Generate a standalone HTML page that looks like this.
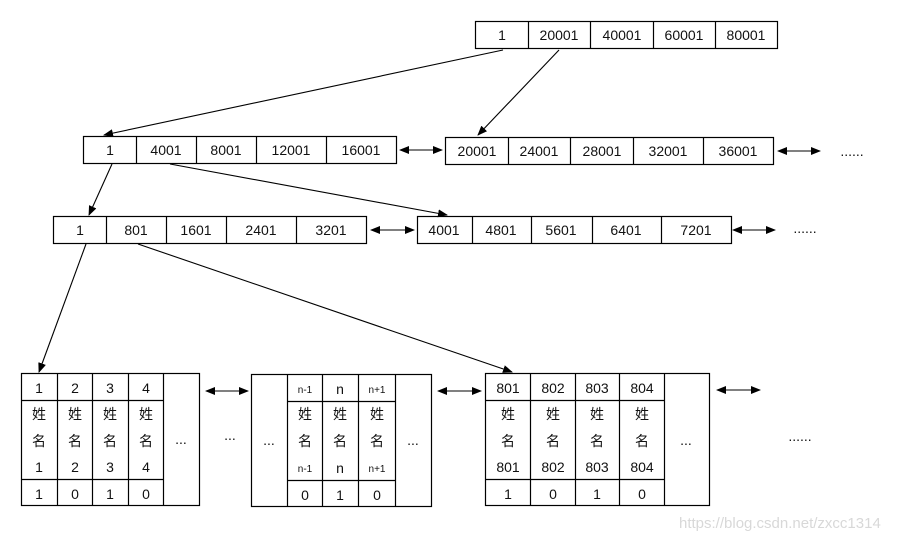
<!DOCTYPE html>
<html><head><meta charset="utf-8"><style>
html,body{margin:0;padding:0;background:#fff;}
svg{display:block}
text{font-family:"Liberation Sans","Noto Sans CJK SC",sans-serif;fill:#111;}
</style></head><body>
<svg width="900" height="540" viewBox="0 0 900 540" xmlns="http://www.w3.org/2000/svg">
<defs>
<marker id="a" markerWidth="10" markerHeight="8" refX="9" refY="4" orient="auto" markerUnits="userSpaceOnUse">
<path d="M0,0 L10,4 L0,8 z" fill="#000"/></marker>
<marker id="b" markerWidth="10" markerHeight="8" refX="1" refY="4" orient="auto" markerUnits="userSpaceOnUse">
<path d="M10,0 L0,4 L10,8 z" fill="#000"/></marker>
</defs>
<g fill="none" stroke="#000" stroke-width="1.2">
<!-- top -->
<rect x="475.5" y="21.5" width="302" height="27"/>
<path d="M528.5 21v28M590.5 21v28M653.5 21v28M715.5 21v28"/>
<!-- row2 -->
<rect x="83.5" y="136.5" width="313" height="27"/>
<path d="M136.5 136v28M196.5 136v28M256.5 136v28M326.5 136v28"/>
<rect x="445.5" y="137.5" width="328" height="27"/>
<path d="M508.5 137v28M570.5 137v28M633.5 137v28M703.5 137v28"/>
<!-- row3 -->
<rect x="53.5" y="216.5" width="313" height="27"/>
<path d="M106.5 216v28M166.5 216v28M226.5 216v28M296.5 216v28"/>
<rect x="417.5" y="216.5" width="314" height="27"/>
<path d="M472.5 216v28M531.5 216v28M592.5 216v28M661.5 216v28"/>
<!-- leaf1 -->
<rect x="21.5" y="373.5" width="178" height="132"/>
<path d="M57.5 373v133M92.5 373v133M128.5 373v133M163.5 373v133M21 400.5h142M21 479.5h142"/>
<!-- leaf2 -->
<rect x="251.5" y="374.5" width="180" height="132"/>
<path d="M287.5 374v133M322.5 374v133M358.5 374v133M395.5 374v133M287 401.5h108M287 480.5h108"/>
<!-- leaf3 -->
<rect x="485.5" y="373.5" width="224" height="132"/>
<path d="M530.5 373v133M575.5 373v133M619.5 373v133M664.5 373v133M485 400.5h179M485 479.5h179"/>
</g>
<g stroke="#000" stroke-width="1.1" fill="none">
<line x1="503" y1="50" x2="104" y2="135" marker-end="url(#a)"/>
<line x1="559" y1="50" x2="478" y2="135" marker-end="url(#a)"/>
<line x1="112" y1="164" x2="89" y2="215" marker-end="url(#a)"/>
<line x1="170" y1="164" x2="447" y2="215" marker-end="url(#a)"/>
<line x1="86" y1="244" x2="39" y2="372" marker-end="url(#a)"/>
<line x1="138" y1="244" x2="512" y2="372" marker-end="url(#a)"/>
<line x1="400" y1="150" x2="442" y2="150" marker-start="url(#b)" marker-end="url(#a)"/>
<line x1="778" y1="151" x2="820" y2="151" marker-start="url(#b)" marker-end="url(#a)"/>
<line x1="371" y1="230" x2="414" y2="230" marker-start="url(#b)" marker-end="url(#a)"/>
<line x1="733" y1="230" x2="775" y2="230" marker-start="url(#b)" marker-end="url(#a)"/>
<line x1="206" y1="391" x2="248" y2="391" marker-start="url(#b)" marker-end="url(#a)"/>
<line x1="438" y1="391" x2="481" y2="391" marker-start="url(#b)" marker-end="url(#a)"/>
<line x1="717" y1="390" x2="760" y2="390" marker-start="url(#b)" marker-end="url(#a)"/>
</g>
<g font-size="14" text-anchor="middle">
<text x="502" y="40">1</text><text x="559" y="40">20001</text><text x="622" y="40">40001</text><text x="684" y="40">60001</text><text x="746" y="40">80001</text>
<text x="110" y="155">1</text><text x="166" y="155">4001</text><text x="226" y="155">8001</text><text x="291" y="155">12001</text><text x="361" y="155">16001</text>
<text x="477" y="156">20001</text><text x="539" y="156">24001</text><text x="602" y="156">28001</text><text x="668" y="156">32001</text><text x="738" y="156">36001</text>
<text x="80" y="235">1</text><text x="136" y="235">801</text><text x="196" y="235">1601</text><text x="261" y="235">2401</text><text x="331" y="235">3201</text>
<text x="444" y="235">4001</text><text x="501" y="235">4801</text><text x="561" y="235">5601</text><text x="626" y="235">6401</text><text x="696" y="235">7201</text>
<text x="852" y="156">......</text><text x="805" y="233">......</text>
<!-- leaf1 -->
<text x="39" y="393">1</text><text x="75" y="393">2</text><text x="110" y="393">3</text><text x="146" y="393">4</text>
<text x="39" y="419">姓</text><text x="75" y="419">姓</text><text x="110" y="419">姓</text><text x="146" y="419">姓</text>
<text x="39" y="446">名</text><text x="75" y="446">名</text><text x="110" y="446">名</text><text x="146" y="446">名</text>
<text x="39" y="472">1</text><text x="75" y="472">2</text><text x="110" y="472">3</text><text x="146" y="472">4</text>
<text x="39" y="499">1</text><text x="75" y="499">0</text><text x="110" y="499">1</text><text x="146" y="499">0</text>
<text x="181" y="444">...</text><text x="230" y="440">...</text>
<!-- leaf2 -->
<text x="305" y="393" font-size="10">n-1</text><text x="340" y="394">n</text><text x="377" y="393" font-size="10">n+1</text>
<text x="305" y="419">姓</text><text x="340" y="419">姓</text><text x="377" y="419">姓</text>
<text x="305" y="446">名</text><text x="340" y="446">名</text><text x="377" y="446">名</text>
<text x="305" y="472" font-size="10">n-1</text><text x="340" y="473">n</text><text x="377" y="472" font-size="10">n+1</text>
<text x="305" y="500">0</text><text x="340" y="500">1</text><text x="377" y="500">0</text>
<text x="269" y="445">...</text><text x="413" y="445">...</text>
<!-- leaf3 -->
<text x="508" y="393">801</text><text x="553" y="393">802</text><text x="597" y="393">803</text><text x="642" y="393">804</text>
<text x="508" y="419">姓</text><text x="553" y="419">姓</text><text x="597" y="419">姓</text><text x="642" y="419">姓</text>
<text x="508" y="446">名</text><text x="553" y="446">名</text><text x="597" y="446">名</text><text x="642" y="446">名</text>
<text x="508" y="472">801</text><text x="553" y="472">802</text><text x="597" y="472">803</text><text x="642" y="472">804</text>
<text x="508" y="499">1</text><text x="553" y="499">0</text><text x="597" y="499">1</text><text x="642" y="499">0</text>
<text x="686" y="445">...</text><text x="800" y="441">......</text>
</g>
<text x="679" y="528" font-size="15" style="fill:#d8d8d8">https://blog.csdn.net/zxcc1314</text>
</svg>
</body></html>
